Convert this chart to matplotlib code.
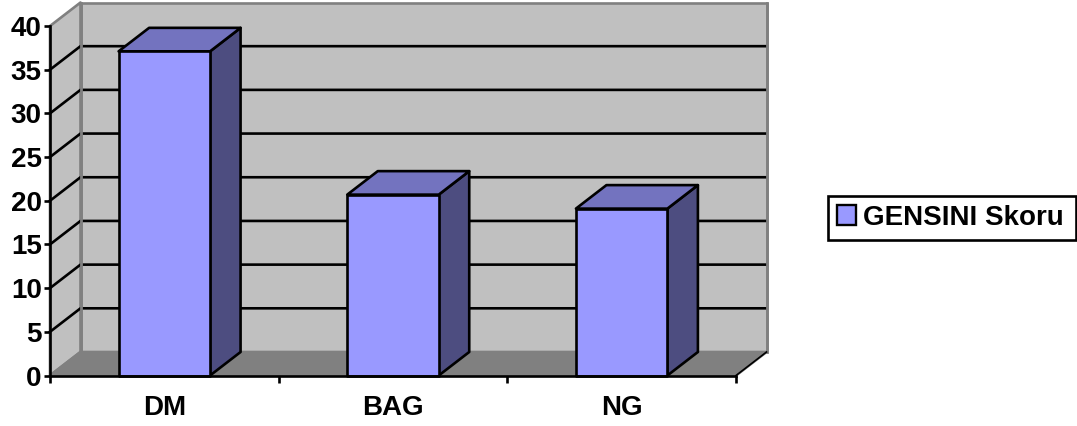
import matplotlib
matplotlib.use("Agg")
import matplotlib.pyplot as plt
from matplotlib.patches import Polygon, Patch

categories = ["DM", "BAG", "NG"]
gensini = [37.1, 20.7, 19.1]
yticks = [0, 5, 10, 15, 20, 25, 30, 35, 40]
series_name = "GENSINI Skoru"

W, H = 1077, 426
plt.rcParams["font.family"] = ["Liberation Sans", "DejaVu Sans"]
plt.rcParams["font.weight"] = "bold"

fig = plt.figure(figsize=(W / 100, H / 100), dpi=100)
# axes = front plane of the 3d box
ax = fig.add_axes([50 / W, (H - 375.5) / H, 686 / W, 349.5 / H])
ax.set_xlim(0, 3)
ax.set_ylim(0, 40)

# depth of the box in data units
dx = 30.5 / (686 / 3)
dy = 23.5 / (349.5 / 40)
bar_w = 0.4
lw = 1.9


def face(pts, fc, ec, lw=lw, z=1):
    ax.add_patch(Polygon(pts, closed=True, facecolor=fc, edgecolor=ec, linewidth=lw,
                         zorder=z, clip_on=False, joinstyle="round"))


# walls and floor
face([(dx, dy), (3 + dx, dy), (3 + dx, 40 + dy), (dx, 40 + dy)], "#C0C0C0", "#808080", z=1)
face([(0, 0), (dx, dy), (dx, 40 + dy), (0, 40)], "#C0C0C0", "#808080", z=1)
face([(0, 0), (3, 0), (3 + dx, dy), (dx, dy)], "#808080", "#808080", z=1)

# gridlines along the side wall and back wall
for t in yticks[1:-1]:
    ax.plot([0, dx, 3 + dx], [t, t + dy, t + dy], color="black", lw=lw, zorder=2,
            clip_on=False, solid_joinstyle="miter")

# redraw the gray corner over the gridlines
ax.plot([dx, dx], [dy, 40 + dy], color="#808080", lw=2, zorder=3, clip_on=False)
ax.plot([3 + dx, 3 + dx], [dy, 40 + dy], color="#808080", lw=2, zorder=3, clip_on=False)

# 3d bars
for i, v in enumerate(gensini):
    x0 = i + 0.5 - bar_w / 2
    x1 = i + 0.5 + bar_w / 2
    face([(x1, 0), (x1 + dx, dy), (x1 + dx, v + dy), (x1, v)], "#4D4D80", "black", z=4)
    face([(x0, v), (x1, v), (x1 + dx, v + dy), (x0 + dx, v + dy)], "#7373BF", "black", z=4)
    face([(x0, 0), (x1, 0), (x1, v), (x0, v)], "#9999FF", "black", z=5)

# front axis lines
ax.plot([3, 3 + dx], [0, dy], color="black", lw=1.2, zorder=3, clip_on=False)

for s in ["top", "right"]:
    ax.spines[s].set_visible(False)
for s in ["left", "bottom"]:
    ax.spines[s].set_linewidth(lw)
    ax.spines[s].set_zorder(6)

ax.set_yticks(yticks)
ax.set_xticks([0, 1, 2, 3])
ax.set_xticklabels([])
ax.set_xticks([0.5, 1.5, 2.5], labels=categories, minor=True)
ax.tick_params(axis="y", length=4, width=lw, labelsize=20, pad=2)
ax.tick_params(axis="x", which="major", length=5, width=lw)
ax.tick_params(axis="x", which="minor", length=0, labelsize=20, pad=14)
ax.patch.set_visible(False)

handle = Patch(facecolor="#9999FF", edgecolor="black", linewidth=1.7)
# mode="expand" stretches the frame to the anchor width
leg = fig.legend(handles=[handle], labels=[series_name], loc="upper left", mode="expand",
                 bbox_to_anchor=(828 / W, (H - 196) / H, 248 / W, 0), borderaxespad=0,
                 fontsize=20, fancybox=False, framealpha=1, edgecolor="black",
                 handlelength=0.7, handleheight=0.7, handletextpad=0.25, borderpad=0.32)
leg.get_frame().set_linewidth(1.9)

fig.savefig("out.png", dpi=100)
